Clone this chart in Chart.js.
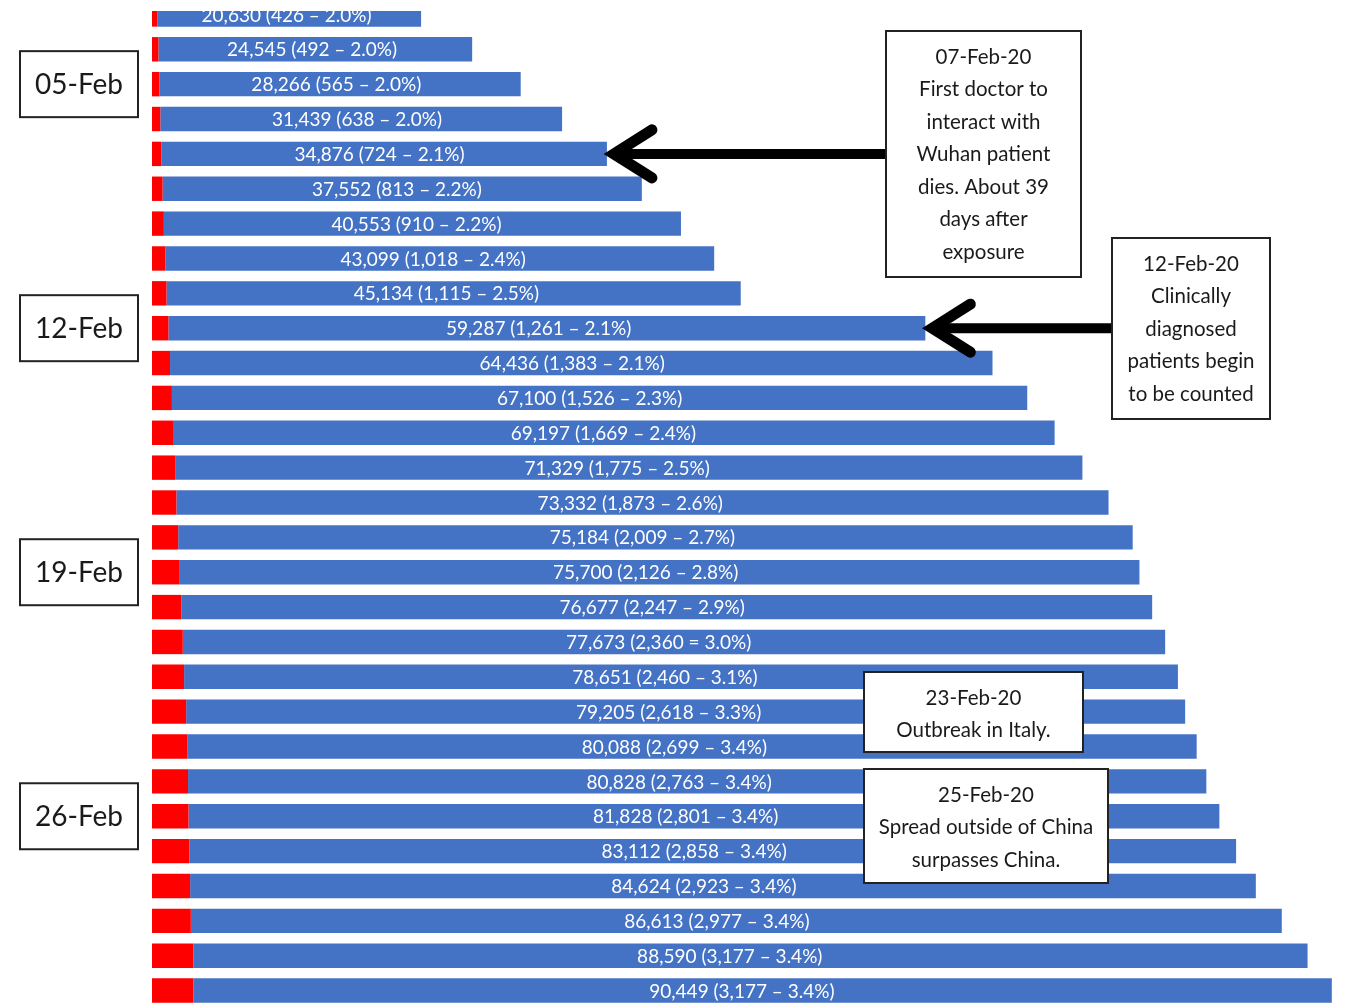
<!DOCTYPE html>
<html>
<head>
<meta charset="utf-8">
<script src="https://cdn.jsdelivr.net/npm/chart.js@4"></script>
<style>
  body { margin: 0; background: #fff; overflow: hidden; }
  #wrap { position: absolute; left: 0; top: -3px; width: 1347px; height: 1011px; }
</style>
</head>
<body>
<div id="wrap"><canvas id="chart" width="1347" height="1011"></canvas></div>
<script>
const dates = ['03-Feb', '04-Feb', '05-Feb', '06-Feb', '07-Feb', '08-Feb', '09-Feb', '10-Feb', '11-Feb',
  '12-Feb', '13-Feb', '14-Feb', '15-Feb', '16-Feb', '17-Feb', '18-Feb', '19-Feb', '20-Feb', '21-Feb',
  '22-Feb', '23-Feb', '24-Feb', '25-Feb', '26-Feb', '27-Feb', '28-Feb', '29-Feb', '01-Mar', '02-Mar'];
const cases = [20630, 24545, 28266, 31439, 34876, 37552, 40553, 43099, 45134, 59287, 64436, 67100, 69197,
  71329, 73332, 75184, 75700, 76677, 77673, 78651, 79205, 80088, 80828, 81828, 83112, 84624, 86613, 88590, 90449];
const deaths = [426, 492, 565, 638, 724, 813, 910, 1018, 1115, 1261, 1383, 1526, 1669,
  1775, 1873, 2009, 2126, 2247, 2360, 2460, 2618, 2699, 2763, 2801, 2858, 2923, 2977, 3177, 3177];
const barLabels = ['20,630 (426 – 2.0%)', '24,545 (492 – 2.0%)', '28,266 (565 – 2.0%)', '31,439 (638 – 2.0%)',
  '34,876 (724 – 2.1%)', '37,552 (813 – 2.2%)', '40,553 (910 – 2.2%)', '43,099 (1,018 – 2.4%)',
  '45,134 (1,115 – 2.5%)', '59,287 (1,261 – 2.1%)', '64,436 (1,383 – 2.1%)', '67,100 (1,526 – 2.3%)',
  '69,197 (1,669 – 2.4%)', '71,329 (1,775 – 2.5%)', '73,332 (1,873 – 2.6%)', '75,184 (2,009 – 2.7%)',
  '75,700 (2,126 – 2.8%)', '76,677 (2,247 – 2.9%)', '77,673 (2,360 = 3.0%)', '78,651 (2,460 – 3.1%)',
  '79,205 (2,618 – 3.3%)', '80,088 (2,699 – 3.4%)', '80,828 (2,763 – 3.4%)', '81,828 (2,801 – 3.4%)',
  '83,112 (2,858 – 3.4%)', '84,624 (2,923 – 3.4%)', '86,613 (2,977 – 3.4%)', '88,590 (3,177 – 3.4%)',
  '90,449 (3,177 – 3.4%)'];
const markedDates = ['05-Feb', '12-Feb', '19-Feb', '26-Feb'];

// callouts: arrows point at the end of a bar
const notes = [
  { lines: ['07-Feb-20', 'First doctor to', 'interact with', 'Wuhan patient', 'dies. About 39', 'days after', 'exposure'],
    box: [886, 31, 195, 246], arrowRow: '07-Feb' },
  { lines: ['12-Feb-20', 'Clinically', 'diagnosed', 'patients begin', 'to be counted'],
    box: [1112, 238, 158, 181], arrowRow: '12-Feb' },
  { lines: ['23-Feb-20', 'Outbreak in Italy.'], box: [864, 672, 219, 80] },
  { lines: ['25-Feb-20', 'Spread outside of China', 'surpasses China.'], box: [864, 769, 244, 114] }
];

const FONT = 'Lato, "DejaVu Sans", sans-serif';
const OFFSET = 3; // canvas sits 3px above the page

const labelPlugin = {
  id: 'barText',
  afterDatasetsDraw(chart) {
    const ctx = chart.ctx, x = chart.scales.x, y = chart.scales.y;
    ctx.save();
    ctx.fillStyle = '#ffffff';
    ctx.font = '19px ' + FONT;
    ctx.textAlign = 'center';
    ctx.textBaseline = 'middle';
    barLabels.forEach((t, i) => {
      const cx = (x.getPixelForValue(0) + x.getPixelForValue(cases[i])) / 2;
      ctx.fillText(t, cx, y.getPixelForValue(i) + 1);
    });
    ctx.restore();
  }
};

const decorPlugin = {
  id: 'decor',
  afterDraw(chart) {
    const ctx = chart.ctx, x = chart.scales.x, y = chart.scales.y;
    ctx.save();
    // white strip at the top (picture is cropped there)
    ctx.fillStyle = '#ffffff';
    ctx.fillRect(0, 0, chart.width, 11 + OFFSET);

    // date boxes on the left
    ctx.lineWidth = 2;
    ctx.strokeStyle = '#222';
    ctx.font = '28px ' + FONT;
    ctx.textAlign = 'center';
    ctx.textBaseline = 'middle';
    markedDates.forEach(d => {
      const cy = y.getPixelForValue(dates.indexOf(d));
      ctx.fillStyle = '#fff';
      ctx.fillRect(20, cy - 33, 118, 66);
      ctx.strokeRect(20, cy - 33, 118, 66);
      ctx.fillStyle = '#1a1a1a';
      ctx.fillText(d, 79, cy + 1);
    });

    // arrows
    notes.forEach(n => {
      if (!n.arrowRow) return;
      const i = dates.indexOf(n.arrowRow);
      const tipX = x.getPixelForValue(cases[i]) + 3;
      const cy = y.getPixelForValue(i);
      ctx.strokeStyle = '#000';
      ctx.lineWidth = 10;
      ctx.lineCap = 'butt';
      ctx.beginPath();
      ctx.moveTo(n.box[0], cy);
      ctx.lineTo(tipX + 6, cy);
      ctx.stroke();
      ctx.lineCap = 'round';
      ctx.lineJoin = 'miter';
      ctx.lineWidth = 11;
      ctx.beginPath();
      ctx.moveTo(tipX + 42, cy - 24);
      ctx.lineTo(tipX + 4, cy);
      ctx.lineTo(tipX + 42, cy + 24);
      ctx.stroke();
    });

    // note boxes
    ctx.font = '20.5px ' + FONT;
    notes.forEach(n => {
      const [bx, by, bw, bh] = n.box;
      const top = by + OFFSET;
      ctx.fillStyle = '#fff';
      ctx.fillRect(bx, top, bw, bh);
      ctx.lineWidth = 2;
      ctx.strokeStyle = '#222';
      ctx.strokeRect(bx, top, bw, bh);
      ctx.fillStyle = '#1a1a1a';
      n.lines.forEach((l, k) => {
        ctx.fillText(l, bx + bw / 2, top + 26 + k * 32.5);
      });
    });
    ctx.restore();
  }
};

const chart = new Chart(document.getElementById('chart').getContext('2d'), {
  type: 'bar',
  data: {
    labels: dates,
    datasets: [{
      label: 'Deaths',
      data: deaths,
      backgroundColor: '#ff0000',
      grouped: false,
      order: 0
    }, {
      label: 'Cases',
      data: cases.map((c, i) => [deaths[i], c]),
      backgroundColor: '#4472c4',
      grouped: false,
      order: 1
    }]
  },
  options: {
    indexAxis: 'y',
    responsive: false,
    animation: false,
    barPercentage: 0.7,
    categoryPercentage: 1,
    layout: { padding: { left: 152, right: 8, top: 0, bottom: 0 } },
    plugins: { legend: { display: false }, tooltip: { enabled: false } },
    scales: {
      x: { display: false, min: 0, max: 91000 },
      y: { display: false, offset: true }
    }
  },
  plugins: [labelPlugin, decorPlugin]
});
</script>
</body>
</html>
